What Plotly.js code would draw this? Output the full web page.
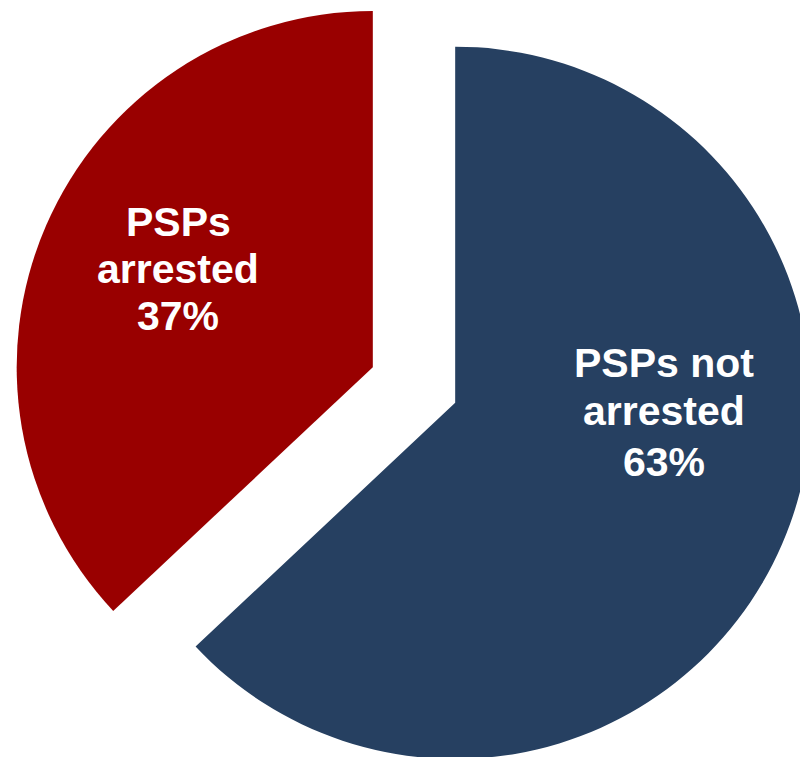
<!DOCTYPE html>
<html>
<head>
<meta charset="utf-8">
<script src="https://cdn.plot.ly/plotly-3.0.1.min.js"></script>
<style>
  html, body { margin: 0; padding: 0; width: 800px; height: 757px; overflow: hidden; background: #fff; }
  #chart { position: absolute; left: 12.5px; top: -16.5px; width: 802px; height: 802px; }
</style>
</head>
<body>
<div id="chart"></div>
<script>
// Data
const labels = ["PSPs not arrested", "PSPs arrested"];
const labelLines = [["PSPs not", "arrested"], ["PSPs", "arrested"]];
const values = [63, 37];
const colors = ["#264061", "#990000"];
const pulls = [0.126, 0.126];

// Label layout (page pixel positions of each text line centre)
const OFFX = 12.5, OFFY = -16.5, SIZE = 802;
const labelPos = [
  { x: 663, ys: [362.7, 410, 461] },
  { x: 177.5, ys: [221, 268.5, 316] }
];

const total = values.reduce((a, b) => a + b, 0);
const annotations = [];
labels.forEach((lab, i) => {
  const lines = labelLines[i].concat([Math.round(values[i] / total * 100) + "%"]);
  lines.forEach((t, j) => {
    annotations.push({
      xref: "paper", yref: "paper",
      x: (labelPos[i].x - OFFX) / SIZE,
      y: 1 - (labelPos[i].ys[j] - OFFY) / SIZE,
      xanchor: "center", yanchor: "middle",
      text: t, showarrow: false,
      font: { family: "Liberation Sans, Arial, sans-serif", size: 41, color: "#ffffff", weight: "bold" }
    });
  });
});

Plotly.newPlot("chart", [{
  type: "pie",
  labels: labels,
  values: values,
  sort: false,
  direction: "clockwise",
  rotation: 0,
  pull: pulls,
  marker: { colors: colors, line: { width: 0 } },
  textinfo: "none",
  hoverinfo: "none",
  showlegend: false
}], {
  width: SIZE,
  height: SIZE,
  margin: { l: 0, r: 0, t: 0, b: 0, pad: 0 },
  paper_bgcolor: "rgba(0,0,0,0)",
  plot_bgcolor: "rgba(0,0,0,0)",
  showlegend: false,
  annotations: annotations
}, { staticPlot: true, displayModeBar: false });
</script>
</body>
</html>
